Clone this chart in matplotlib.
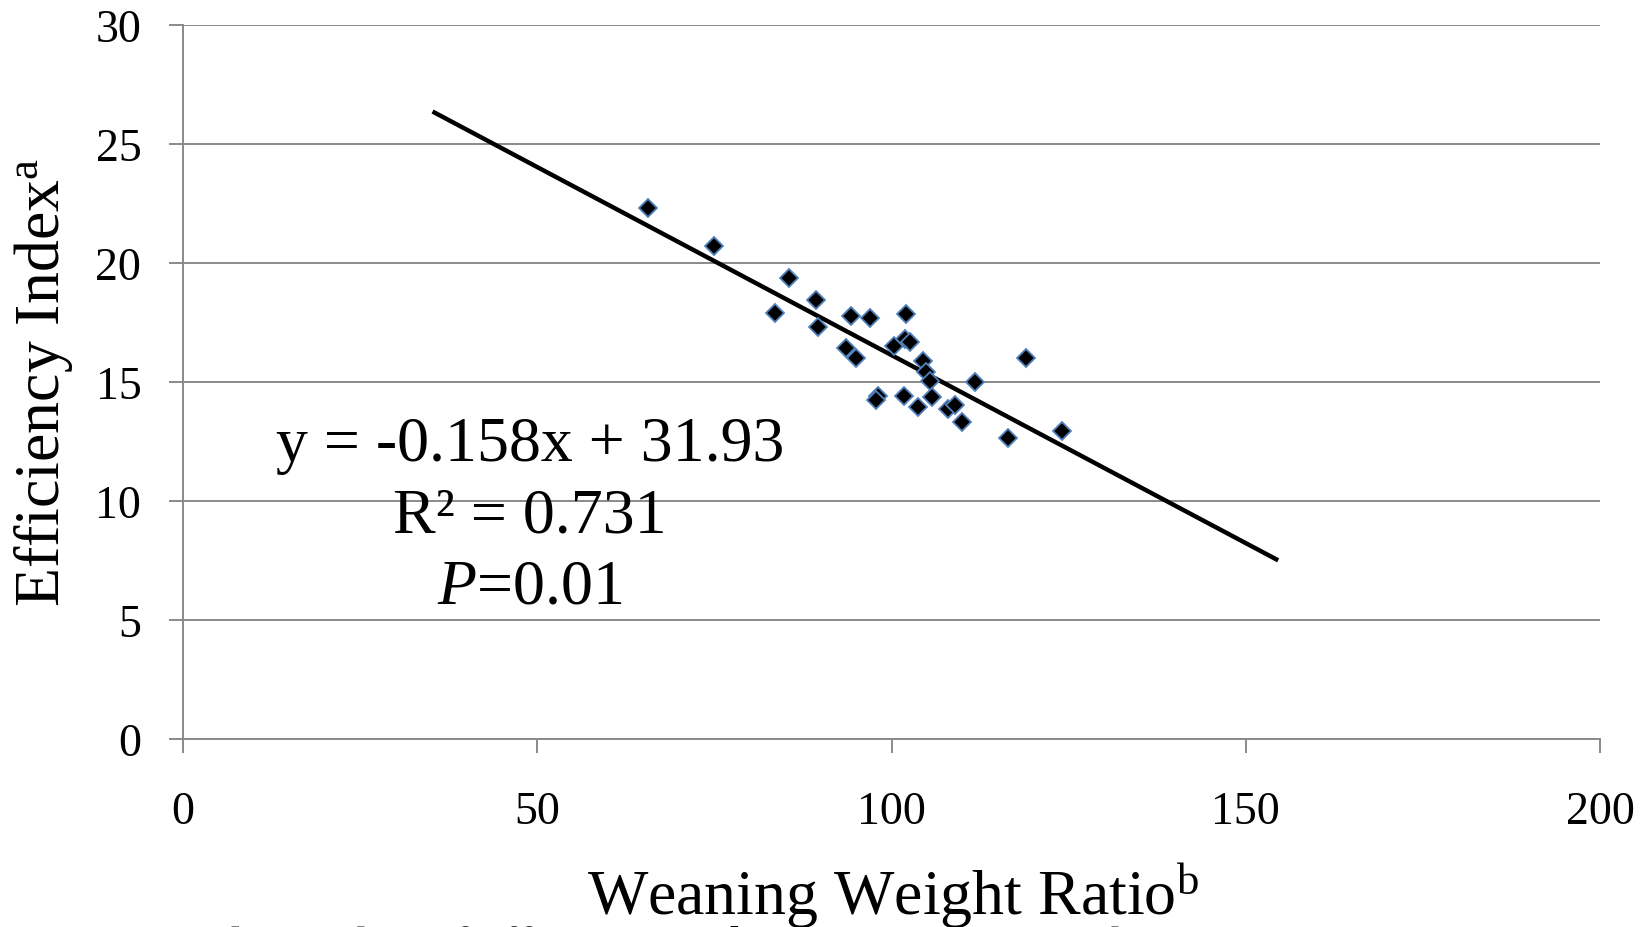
import matplotlib.pyplot as plt

plt.rcParams['font.family'] = ['Liberation Serif', 'DejaVu Serif']
plt.rcParams['mathtext.fontset'] = 'custom'
plt.rcParams['mathtext.rm'] = 'Liberation Serif'
plt.rcParams['mathtext.it'] = 'Liberation Serif:italic'

# weaning weight ratio vs efficiency index
weaning_ratio = [65.6, 75.0, 85.5, 83.6, 89.4, 89.6, 94.3, 97.0, 102.1, 93.6,
                 95.0, 100.4, 101.9, 102.6, 104.4, 104.8, 105.5, 111.8, 119.0,
                 98.1, 97.8, 101.7, 103.8, 105.7, 108.0, 108.9, 110.0, 116.4,
                 124.1]
efficiency = [22.30, 20.73, 19.36, 17.90, 18.46, 17.30, 17.78, 17.67, 17.84,
              16.41, 15.99, 16.52, 16.80, 16.66, 15.89, 15.43, 15.05, 14.98,
              15.99, 14.42, 14.25, 14.42, 13.93, 14.35, 13.86, 14.03, 13.30,
              12.63, 12.95]

# trend line from the chart
slope = -0.158
intercept = 31.93
trend_x = [35.5, 154.3]
trend_y = [slope * v + intercept for v in trend_x]

x_ticks = [0, 50, 100, 150, 200]
y_ticks = [0, 5, 10, 15, 20, 25, 30]

grey = '#8a8a8a'

fig = plt.figure(figsize=(16.52, 9.28), dpi=100)
ax = fig.add_axes([183 / 1652, 1 - 740 / 928, (1600 - 183) / 1652, (740 - 26) / 928])

ax.plot(trend_x, trend_y, color='black', linewidth=3.2, zorder=3)
ax.plot(weaning_ratio, efficiency, linestyle='none', marker='D', markersize=9.5,
        markerfacecolor='black', markeredgecolor='#4f81bd', markeredgewidth=1.3,
        zorder=4)

ax.set_xlim(0, 200)
ax.set_ylim(0, 30)
ax.set_xticks(x_ticks)
ax.set_yticks(y_ticks)
ax.grid(axis='y', color=grey, linewidth=1.4)
ax.set_axisbelow(True)

for side in ['top', 'right']:
    ax.spines[side].set_visible(False)
for side in ['left', 'bottom']:
    ax.spines[side].set_color(grey)
    ax.spines[side].set_linewidth(1.4)

ax.tick_params(axis='x', length=10, width=1.4, color=grey, pad=27, labelsize=33)
ax.tick_params(axis='y', length=10, width=1.4, color=grey, pad=20, labelsize=33)

# regression annotation
ax.text(49, 11.74, 'y = -0.158x + 31.93', fontsize=46, ha='center', va='baseline')
ax.text(49, 8.73, 'R² = 0.731', fontsize=46, ha='center', va='baseline')
ax.text(49, 5.72, r'$P$=0.01', fontsize=46, ha='center', va='baseline')

fig.text(44 / 1652, 1 - 382 / 928, r'Efficiency Index$^{\mathrm{a}}$', rotation=90,
         fontsize=46, ha='center', va='center')
fig.text(893 / 1652, 1 - 915 / 928, r'Weaning Weight Ratio$^{\mathrm{b}}$',
         fontsize=46, ha='center', va='baseline')

fig.text(-40 / 1652, -31 / 928, 'Figure 3.4. Relationship of efficiency index to weaning weight ratio',
         fontsize=34, ha='left', va='baseline')

fig.savefig('out.png', dpi=100)
